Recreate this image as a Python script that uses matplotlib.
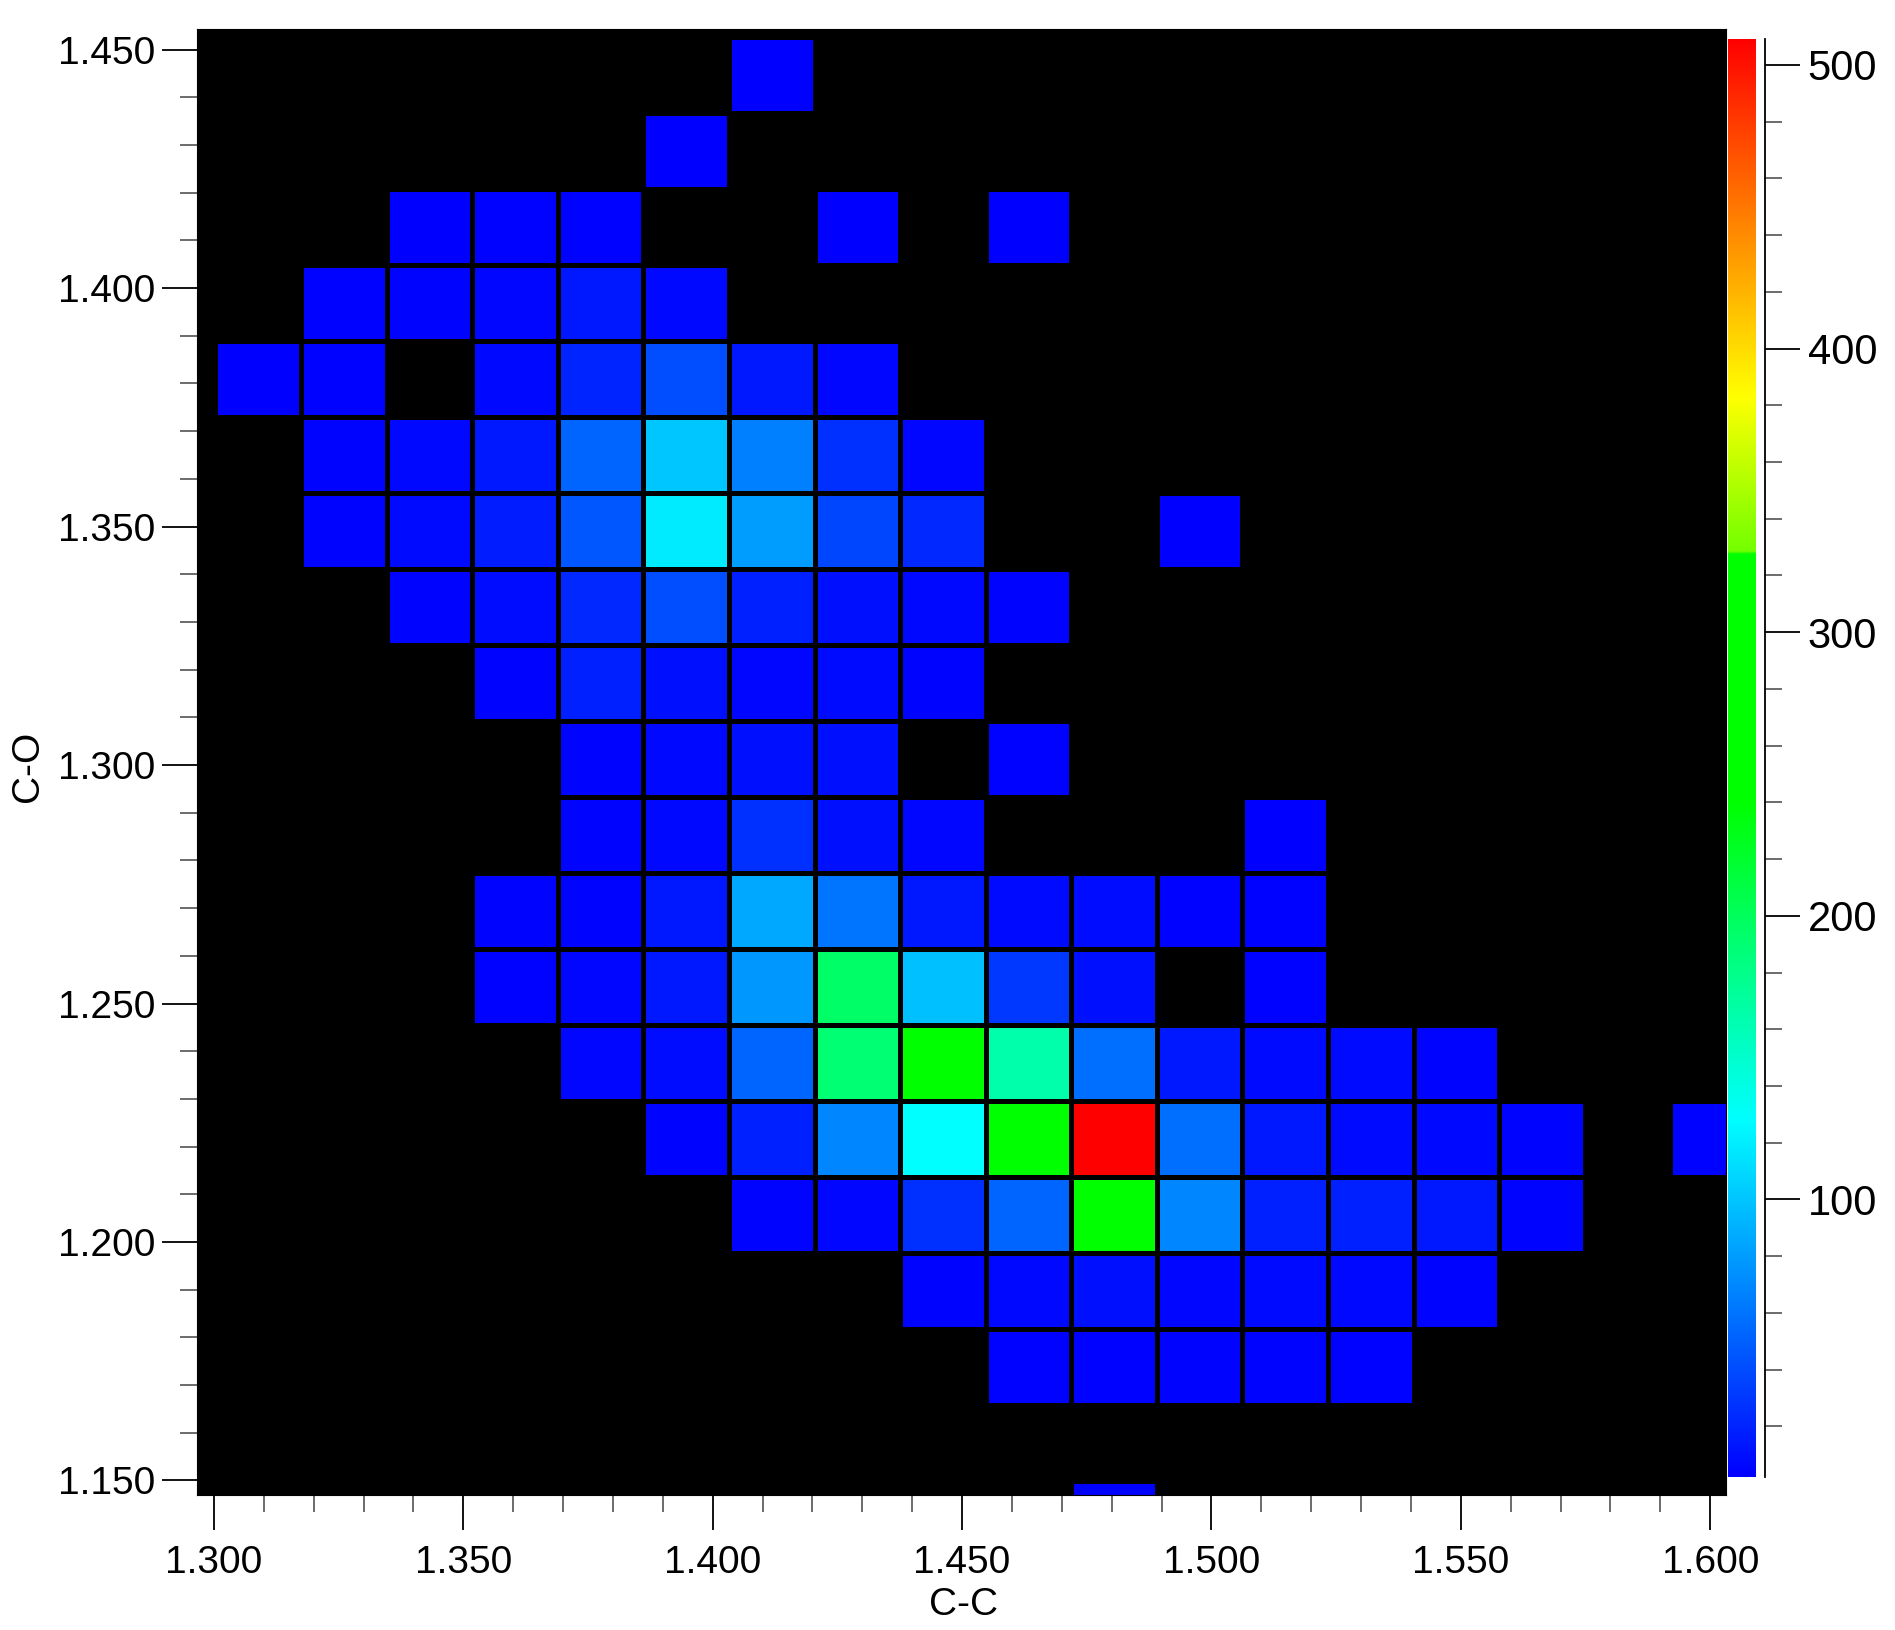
import matplotlib
matplotlib.use("Agg")
import matplotlib.pyplot as plt
import numpy as np
from matplotlib.colors import LinearSegmentedColormap, Normalize
from matplotlib.ticker import MultipleLocator, FormatStrFormatter

plt.rcParams['font.family'] = ['Liberation Sans', 'DejaVu Sans']

# 2D histogram of bond lengths: C-C on x, C-O on y
cc_start, cc_width, cc_bins = 1.3003, 0.01716, 18
co_start, co_width, co_bins = 1.13397, 0.01593, 20

# counts per bin, rows listed from the top (highest C-O) down, columns from low C-C
counts = [
    [0, 0, 0, 0, 0, 0, 2, 0, 0, 0, 0, 0, 0, 0, 0, 0, 0, 0],
    [0, 0, 0, 0, 0, 2, 0, 0, 0, 0, 0, 0, 0, 0, 0, 0, 0, 0],
    [0, 0, 2, 3, 3, 0, 0, 2, 0, 2, 0, 0, 0, 0, 0, 0, 0, 0],
    [0, 3, 4, 5, 14, 6, 0, 0, 0, 0, 0, 0, 0, 0, 0, 0, 0, 0],
    [2, 3, 0, 6, 20, 41, 14, 5, 0, 0, 0, 0, 0, 0, 0, 0, 0, 0],
    [0, 4, 6, 14, 52, 100, 65, 26, 5, 0, 0, 0, 0, 0, 0, 0, 0, 0],
    [0, 4, 7, 16, 45, 118, 80, 37, 22, 0, 0, 2, 0, 0, 0, 0, 0, 0],
    [0, 0, 4, 8, 22, 41, 18, 10, 6, 4, 0, 0, 0, 0, 0, 0, 0, 0],
    [0, 0, 0, 4, 18, 10, 5, 7, 4, 0, 0, 0, 0, 0, 0, 0, 0, 0],
    [0, 0, 0, 0, 4, 6, 10, 10, 0, 3, 0, 0, 0, 0, 0, 0, 0, 0],
    [0, 0, 0, 0, 4, 6, 26, 10, 5, 0, 0, 0, 2, 0, 0, 0, 0, 0],
    [0, 0, 0, 4, 4, 14, 85, 60, 14, 7, 8, 3, 3, 0, 0, 0, 0, 0],
    [0, 0, 0, 3, 5, 14, 77, 195, 97, 30, 10, 0, 3, 0, 0, 0, 0, 0],
    [0, 0, 0, 0, 5, 8, 52, 190, 290, 165, 57, 14, 7, 7, 4, 0, 0, 0],
    [0, 0, 0, 0, 0, 4, 18, 69, 128, 300, 509, 57, 14, 7, 6, 4, 0, 3],
    [0, 0, 0, 0, 0, 0, 4, 5, 26, 52, 270, 69, 18, 18, 14, 4, 0, 0],
    [0, 0, 0, 0, 0, 0, 0, 0, 4, 6, 10, 5, 7, 6, 4, 0, 0, 0],
    [0, 0, 0, 0, 0, 0, 0, 0, 0, 3, 3, 4, 4, 3, 0, 0, 0, 0],
    [0, 0, 0, 0, 0, 0, 0, 0, 0, 0, 0, 0, 0, 0, 0, 0, 0, 0],
    [0, 0, 0, 0, 0, 0, 0, 0, 0, 0, 2, 0, 0, 0, 0, 0, 0, 0],
]

vmin, vmax = 2, 509
cb_ticks = [100, 200, 300, 400, 500]

# colour table: blue -> cyan -> green, step to yellow-green, -> yellow -> red
def pos(v):
    return (v - vmin) / (vmax - vmin)

cmap = LinearSegmentedColormap.from_list("igor_like", [
    (0.0, (0, 0, 1)),
    (pos(128), (0, 1, 1)),
    (pos(240), (0, 1, 0)),
    (pos(327.5), (0, 1, 0)),
    (pos(328.5), (0.45, 1, 0)),
    (pos(383), (1, 1, 0)),
    (1.0, (1, 0, 0)),
], N=1024)
cmap.set_bad("black")

cc_edges = cc_start + cc_width * np.arange(cc_bins + 1)
co_edges = co_start + co_width * np.arange(co_bins + 1)
z = np.flipud(np.array(counts, dtype=float))
z = np.ma.masked_where(z <= 0, z)

W, H = 1895, 1630
fig = plt.figure(figsize=(W / 100, H / 100), dpi=100)
ax = fig.add_axes([197 / W, 1 - 1495 / H, 1529 / W, 1466 / H])
ax.set_facecolor("black")
norm = Normalize(vmin=vmin, vmax=vmax)
ax.pcolormesh(cc_edges, co_edges, z, cmap=cmap, norm=norm,
              edgecolors="black", linewidth=2.4)
ax.set_xlim(1.29661, 1.60317)
ax.set_ylim(1.14696, 1.45431)

fs = 28
ax.xaxis.set_major_locator(MultipleLocator(0.05))
ax.xaxis.set_minor_locator(MultipleLocator(0.01))
ax.yaxis.set_major_locator(MultipleLocator(0.05))
ax.yaxis.set_minor_locator(MultipleLocator(0.01))
ax.xaxis.set_major_formatter(FormatStrFormatter("%.3f"))
ax.yaxis.set_major_formatter(FormatStrFormatter("%.3f"))
ax.tick_params(which="major", length=25, width=1.3, labelsize=fs, color="black")
ax.tick_params(which="minor", length=12, width=1.1, color="#444444")
ax.tick_params(axis="x", which="major", pad=11)
ax.tick_params(axis="y", which="major", pad=5)
for s in ax.spines.values():
    s.set_color("black")

ax.set_xlabel("C-C", fontsize=fs)
ax.set_ylabel("C-O", fontsize=fs)
ax.xaxis.set_label_coords(0.501, -0.063)
ax.yaxis.set_label_coords(-0.099, 0.497)

# colour scale strip
cb_bottom, cb_top = 1477.4, 39.4
cax = fig.add_axes([1728 / W, 1 - cb_bottom / H, 27 / W, (cb_bottom - cb_top) / H])
grad = np.linspace(vmin, vmax, 1024).reshape(-1, 1)
cax.imshow(grad, cmap=cmap, norm=norm, aspect="auto", origin="lower",
           extent=[0, 1, vmin, vmax])
cax.set_axis_off()

# colour scale axis with ticks to the right
tax = fig.add_axes([1764.5 / W - 0.0005, 1 - cb_bottom / H, 0.0005, (cb_bottom - cb_top) / H])
tax.set_ylim(vmin, vmax)
tax.patch.set_visible(False)
for name in ["left", "top", "bottom"]:
    tax.spines[name].set_visible(False)
tax.spines["right"].set_linewidth(1.3)
tax.xaxis.set_visible(False)
tax.yaxis.tick_right()
tax.yaxis.set_major_locator(MultipleLocator(100))
tax.yaxis.set_minor_locator(MultipleLocator(20))
tax.set_yticks(cb_ticks)
tax.set_yticklabels([str(t) for t in cb_ticks])
tax.tick_params(which="major", length=25, width=1.3, labelsize=30, pad=6)
tax.tick_params(which="minor", length=12, width=1.1, color="#444444")

fig.savefig("out.png", dpi=100)
